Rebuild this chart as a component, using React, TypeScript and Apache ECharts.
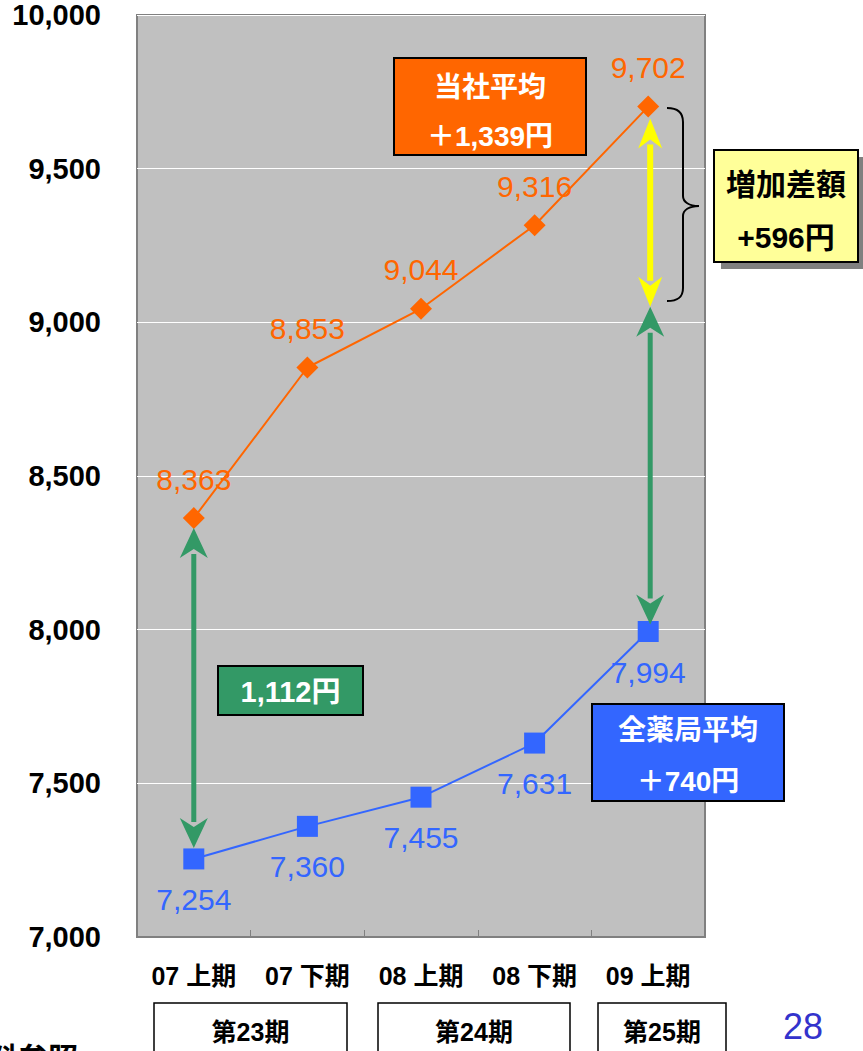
import React, { useEffect, useRef } from "react";
import * as echarts from "echarts";

const categories = ["07 上期", "07 下期", "08 上期", "08 下期", "09 上期"];
const companyAvg = [8363, 8853, 9044, 9316, 9702];
const allPharmacyAvg = [7254, 7360, 7455, 7631, 7994];
const yMin = 7000;
const yMax = 10000;
const yInterval = 500;
const periods = ["第23期", "第24期", "第25期"];
const companyBox = ["当社平均", "＋1,339円"];
const pharmacyBox = ["全薬局平均", "＋740円"];
const diffBox = ["増加差額", "+596円"];
const gapBox = "1,112円";
const pageNo = "28";
const footNote = "資料参照";

const ORANGE = "#FF6600";
const BLUE = "#3366FF";
const GREEN = "#339966";
const YELLOW = "#FFFF00";
const JP = '"Liberation Sans", "Noto Sans CJK JP", sans-serif';

const fmt = (v: number) => v.toLocaleString("en-US");

let braceRegistered = false;
function registerBrace() {
  if (braceRegistered) return;
  braceRegistered = true;
  const d =
    "M0,0 C10,0 16,4 16,14 L16,88 C16,94 22,98 32,98 C22,98 16,102 16,108 L16,180 C16,190 10,193 0,193";
  echarts.graphic.registerShape("brace", (echarts.graphic as any).extendPath(d, {}));
}

function arrow(x: number, yTop: number, yBot: number, color: string, lw: number, hw: number, hh: number) {
  return {
    type: "group",
    z: 50,
    children: [
      {
        type: "line",
        shape: { x1: x, y1: yTop + hh - 4, x2: x, y2: yBot - hh + 4 },
        style: { stroke: color, lineWidth: lw },
        z: 50,
      },
      {
        type: "polygon",
        shape: {
          points: [
            [x, yTop],
            [x + hw / 2, yTop + hh],
            [x, yTop + hh - 9],
            [x - hw / 2, yTop + hh],
          ],
        },
        style: { fill: color },
        z: 51,
      },
      {
        type: "polygon",
        shape: {
          points: [
            [x, yBot],
            [x + hw / 2, yBot - hh],
            [x, yBot - hh + 9],
            [x - hw / 2, yBot - hh],
          ],
        },
        style: { fill: color },
        z: 51,
      },
    ],
  };
}

function box(
  x: number,
  y: number,
  w: number,
  h: number,
  fill: string,
  lines: string[],
  textColor: string,
  fontSize: number,
  lineYs: number[],
  shadow = false
) {
  const children: any[] = [];
  if (shadow) {
    children.push({
      type: "rect",
      shape: { x: x + 7, y: y + 7, width: w, height: h },
      style: { fill: "#808080" },
      z: 60,
    });
  }
  children.push({
    type: "rect",
    shape: { x, y, width: w, height: h },
    style: { fill, stroke: "#000", lineWidth: 2 },
    z: 61,
  });
  lines.forEach((t, i) => {
    children.push({
      type: "text",
      z: 62,
      style: {
        text: t,
        x: x + w / 2,
        y: lineYs[i],
        fill: textColor,
        font: `bold ${fontSize}px ${JP}`,
        textAlign: "center",
        textVerticalAlign: "middle",
        align: "center",
        verticalAlign: "middle",
      },
    });
  });
  return { type: "group", children };
}

export default function App() {
  const ref = useRef<HTMLDivElement>(null);

  useEffect(() => {
    if (!ref.current) return;
    registerBrace();
    const chart = echarts.init(ref.current, undefined, { renderer: "svg" });
    chart.setOption({
      animation: false,
      grid: {
        left: 137,
        top: 15,
        right: 158,
        bottom: 114,
        show: true,
        backgroundColor: "#C0C0C0",
        borderColor: "#808080",
        borderWidth: 2,
      },
      xAxis: {
        type: "category",
        data: categories,
        boundaryGap: true,
        axisLine: { show: true, lineStyle: { color: "#808080", width: 2 } },
        axisTick: { show: true, inside: true, length: 7, lineStyle: { color: "#808080", width: 1 } },
        axisLabel: {
          margin: 26,
          color: "#000",
          fontFamily: JP,
          fontWeight: "bold",
          fontSize: 25,
        },
        splitLine: { show: false },
      },
      yAxis: {
        type: "value",
        min: yMin,
        max: yMax,
        interval: yInterval,
        axisLine: { show: false },
        axisTick: { show: false },
        splitLine: { show: true, lineStyle: { color: "#FFFFFF", width: 1 } },
        axisLabel: {
          margin: 36,
          color: "#000",
          fontFamily: JP,
          fontWeight: "bold",
          fontSize: 29,
          formatter: (v: number) => fmt(v),
        },
      },
      series: [
        {
          name: "当社平均",
          type: "line",
          data: companyAvg,
          symbol: "diamond",
          symbolSize: 22,
          itemStyle: { color: ORANGE },
          lineStyle: { color: ORANGE, width: 2 },
          label: {
            show: true,
            position: "top",
            distance: 13,
            color: ORANGE,
            fontFamily: JP,
            fontSize: 30,
            formatter: (p: any) => fmt(p.value),
          },
          z: 3,
        },
        {
          name: "全薬局平均",
          type: "line",
          data: allPharmacyAvg,
          symbol: "rect",
          symbolSize: 21,
          itemStyle: { color: BLUE },
          lineStyle: { color: BLUE, width: 2 },
          label: {
            show: true,
            position: "bottom",
            distance: 15,
            color: BLUE,
            fontFamily: JP,
            fontSize: 30,
            formatter: (p: any) => fmt(p.value),
          },
          z: 3,
        },
      ],
    });

    const px = (i: number, v: number) => chart.convertToPixel({ gridIndex: 0 }, [i, v]) as number[];
    const a0o = px(0, companyAvg[0]);
    const a0b = px(0, allPharmacyAvg[0]);
    const last = companyAvg.length - 1;
    const aLo = px(last, companyAvg[last]);
    const aLb = px(last, allPharmacyAvg[last]);
    const mid = px(last, allPharmacyAvg[0] + (companyAvg[0] - allPharmacyAvg[0]) + (allPharmacyAvg[last] - allPharmacyAvg[0]));
    const xL = aLo[0] + 2;

    const graphic: any[] = [
      arrow(a0o[0], a0o[1] + 10, a0b[1] - 11, GREEN, 5, 28, 30),
      arrow(xL, aLo[1] + 12, mid[1] + 16, YELLOW, 6, 24, 30),
      arrow(xL, mid[1] + 16, aLb[1] - 7, GREEN, 5, 28, 30),
      {
        type: "brace",
        x: 667,
        y: 108,
        z: 55,
        style: { stroke: "#000", lineWidth: 2, fill: null },
      },
      box(394, 58, 192, 97, ORANGE, companyBox, "#FFFFFF", 28, [87, 136]),
      box(714, 150, 144, 112, "#FFFF99", diffBox, "#000000", 30, [184, 237], true),
      box(218, 666, 145, 49, GREEN, [gapBox], "#FFFFFF", 29, [692]),
      box(592, 704, 192, 97, BLUE, pharmacyBox, "#FFFFFF", 28, [730, 781]),
    ];

    const periodBoxes = [
      [154, 193],
      [378, 192],
      [598, 128],
    ];
    periods.forEach((p, i) => {
      const [bx, bw] = periodBoxes[i];
      graphic.push({
        type: "rect",
        shape: { x: bx, y: 1003, width: bw, height: 70 },
        style: { fill: "#FFFFFF", stroke: "#000", lineWidth: 1.5 },
        z: 10,
      });
      graphic.push({
        type: "text",
        z: 11,
        style: {
          text: p,
          x: bx + bw / 2,
          y: 1032,
          fill: "#000",
          font: `bold 25px ${JP}`,
          textAlign: "center",
          textVerticalAlign: "middle",
          align: "center",
          verticalAlign: "middle",
        },
      });
    });

    graphic.push({
      type: "text",
      z: 11,
      style: {
        text: pageNo,
        x: 803,
        y: 1026,
        fill: "#3333CC",
        font: `36px ${JP}`,
        textAlign: "center",
        textVerticalAlign: "middle",
        align: "center",
        verticalAlign: "middle",
        shadowColor: "rgba(0,0,0,0.35)",
        shadowBlur: 2,
        shadowOffsetX: 2,
        shadowOffsetY: 2,
      },
    });
    graphic.push({
      type: "text",
      z: 11,
      style: {
        text: footNote,
        x: 78,
        y: 1058,
        fill: "#000",
        font: `bold 30px ${JP}`,
        textAlign: "right",
        textVerticalAlign: "middle",
        align: "right",
        verticalAlign: "middle",
      },
    });

    chart.setOption({ graphic });

    return () => chart.dispose();
  }, []);

  return (
    <div
      ref={ref}
      style={{ position: "absolute", left: 0, top: 0, width: 863, height: 1051, background: "#FFFFFF" }}
    />
  );
}
